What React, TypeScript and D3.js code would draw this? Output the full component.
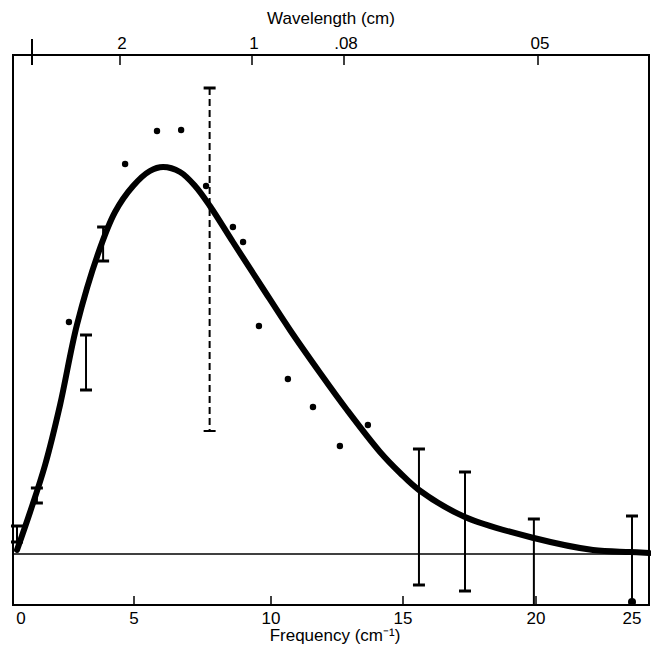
import * as d3 from "d3";

// frequency axis (cm^-1)
const freqTicks = [0, 5, 10, 15, 20, 25];
// wavelength axis (cm), first tick unlabelled
const waveTicks = [1, 0.2, 0.1, 0.08, 0.05];
const waveLabels = ["", "2", "1", ".08", "05"];

// measured points (arbitrary intensity units, 0 = baseline)
const dotFreq = [2.22, 4.62, 5.84, 6.72, 7.63, 8.61, 8.98, 9.56, 10.64, 11.59, 12.61, 13.67];
const dotIntensity = [58, 97.5, 105.75, 106, 92, 81.75, 78, 57, 43.75, 36.75, 27, 32.25];

// error bars
const barFreq = [0, 0.85, 2.95, 3.68, 15.6, 17.33, 19.92, 25];
const barHigh = [7, 16.5, 54.75, 81.75, 26.25, 20.5, 8.75, 9.5];
const barLow = [3, 12.75, 41, 73.25, -7.75, -9.25, -12.75, -12.75];

// the one dashed bar
const dashedFreq = 7.76;
const dashedHigh = 116.5;
const dashedLow = 30.75;

// fitted curve
const curveFreq = [0, 0.56, 1.2, 1.84, 2.56, 3.46, 4.19, 4.96, 5.58, 6.06, 6.68, 7.23, 7.77, 8.61, 9.67, 10.72, 11.86, 12.88, 14.13, 14.89, 15.6, 17.33, 19.92, 22.97, 24.9, 25.9];
const curveIntensity = [1, 10.5, 22.25, 37.25, 57.25, 75, 85.5, 92, 95.75, 96.75, 95.5, 92, 87, 78, 66.75, 56, 45.25, 36, 25.5, 20.25, 16, 9.25, 4, 1, 0.5, 0.25];

const width = 651;
const height = 648;
const left = 13, right = 649, top = 55, bottom = 605;
const font = "'Liberation Sans', Arial, sans-serif";

export default function App() {
  // the printed axis is not quite even, so the scale is piecewise
  const x = d3.scaleLinear().domain(freqTicks).range([17, 134, 271, 403, 536, 632]);
  // top axis in 1/wavelength, calibrated to where the ticks are printed
  const xTop = d3.scaleLinear().domain(waveTicks.map(w => 1 / w)).range([32, 120, 252, 344, 538]);
  const y = d3.scaleLinear().domain([-12.75, 124.75]).range([bottom, top]);

  const line = d3.line<number>()
    .x((_, i) => x(curveFreq[i]))
    .y((_, i) => y(curveIntensity[i]))
    .curve(d3.curveCatmullRom.alpha(0.5));

  const cap = 6;

  return (
    <svg width={width} height={height} style={{ position: "absolute", left: 0, top: 0, background: "#fff" }}>
      {/* frame */}
      <rect x={left} y={top} width={right - left} height={bottom - top} fill="none" stroke="#000" strokeWidth={2} />
      {/* zero line */}
      <line x1={left} x2={right} y1={y(0)} y2={y(0)} stroke="#000" strokeWidth={1.5} />

      {/* bottom axis */}
      {freqTicks.map((t, i) => (
        <g key={t}>
          {i > 0 && <line x1={x(t)} x2={x(t)} y1={bottom} y2={bottom - 9} stroke="#000" strokeWidth={1.5} />}
          <text x={x(t) + (i === 0 ? 4 : 0)} y={bottom + 19} textAnchor="middle" fontSize={17} fontFamily={font}>{t}</text>
        </g>
      ))}
      <text x={335} y={641} textAnchor="middle" fontSize={17} fontFamily={font}>Frequency (cm⁻¹)</text>

      {/* top axis */}
      {waveTicks.map((w, i) => (
        <g key={w}>
          <line x1={xTop(1 / w)} x2={xTop(1 / w)} y1={i === 0 ? top - 16 : top} y2={top + 10} stroke="#000" strokeWidth={i === 0 ? 2 : 1.5} />
          <text x={xTop(1 / w) + 2} y={top - 6} textAnchor="middle" fontSize={17} fontFamily={font}>{waveLabels[i]}</text>
        </g>
      ))}
      <text x={331} y={24} textAnchor="middle" fontSize={17} fontFamily={font}>Wavelength (cm)</text>

      {/* error bars */}
      {barFreq.map((f, i) => (
        <g key={i} stroke="#000" strokeWidth={2}>
          <line x1={x(f)} x2={x(f)} y1={y(barHigh[i])} y2={y(barLow[i])} />
          <line x1={x(f) - cap} x2={x(f) + cap} y1={y(barHigh[i])} y2={y(barHigh[i])} strokeWidth={3} />
          {barLow[i] > y.domain()[0] && (
            <line x1={x(f) - cap} x2={x(f) + cap} y1={y(barLow[i])} y2={y(barLow[i])} strokeWidth={3} />
          )}
        </g>
      ))}
      <circle cx={x(25)} cy={bottom - 3} r={4} fill="#000" />

      {/* dashed bar */}
      <g stroke="#000" strokeWidth={2}>
        <line x1={x(dashedFreq)} x2={x(dashedFreq)} y1={y(dashedHigh)} y2={y(dashedLow)} strokeDasharray="7,4" />
        <line x1={x(dashedFreq) - cap} x2={x(dashedFreq) + cap} y1={y(dashedHigh)} y2={y(dashedHigh)} strokeWidth={3} />
        <line x1={x(dashedFreq) - cap} x2={x(dashedFreq) + cap} y1={y(dashedLow)} y2={y(dashedLow)} strokeWidth={2} />
      </g>

      {/* curve */}
      <path d={line(curveFreq) ?? ""} fill="none" stroke="#000" strokeWidth={6} strokeLinecap="round" />

      {/* dots */}
      {dotFreq.map((f, i) => (
        <circle key={i} cx={x(f)} cy={y(dotIntensity[i])} r={3.2} fill="#000" />
      ))}
    </svg>
  );
}
